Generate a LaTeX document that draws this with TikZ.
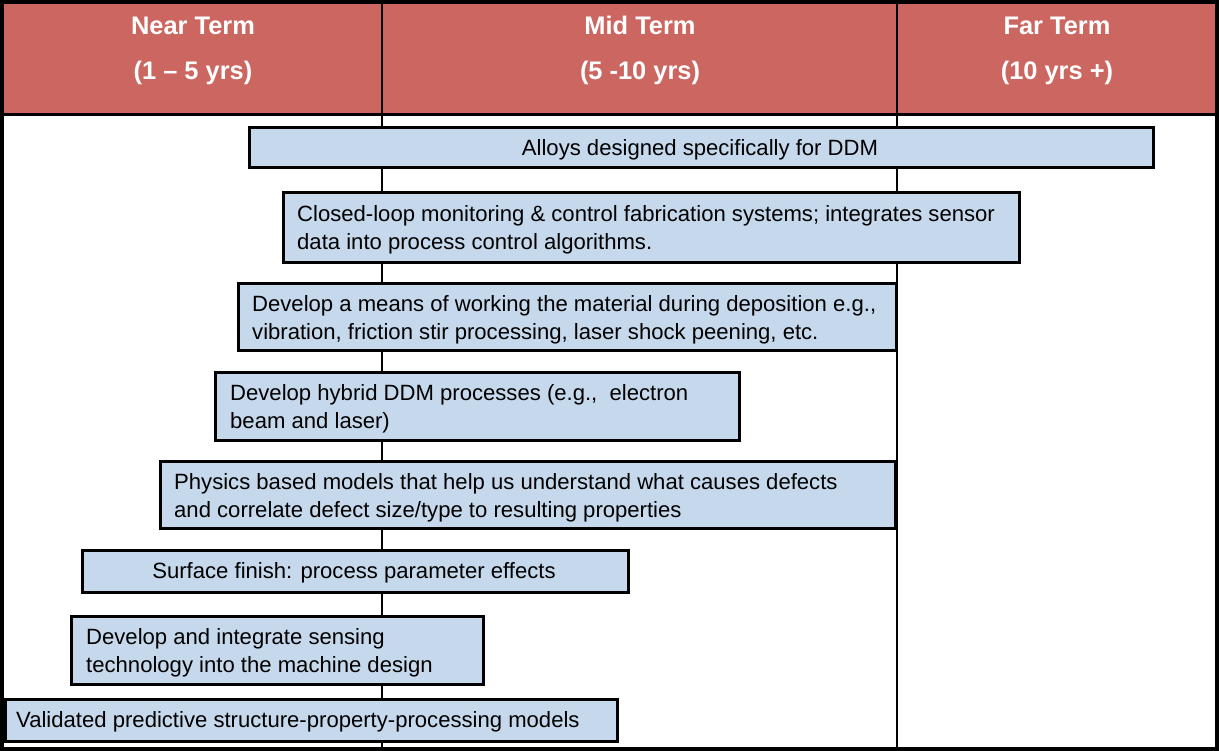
\documentclass[tikz,border=0pt]{standalone}
\usepackage{fontspec}
\setmainfont{Liberation Sans}
\definecolor{headred}{RGB}{204,102,96}
\definecolor{barblue}{RGB}{198,216,236}
\begin{document}
\begin{tikzpicture}[x=1pt,y=-1pt,
  bar/.style={draw=black, line width=2.6pt, fill=barblue, anchor=north west,
    inner sep=0pt, font=\fontsize{22.1}{28}\selectfont},
  bartext/.style={anchor=west, align=left, inner sep=0pt, font=\fontsize{22.1}{28}\selectfont},
  headtext/.style={text=white, font=\fontsize{25.4}{45}\selectfont\bfseries, align=center, inner sep=0pt}]
\useasboundingbox (0,0) rectangle (1219,751);
% header band
\fill[headred] (2,2) rectangle (1217,115);
\fill[white] (2,115) rectangle (1217,749);
% column dividers
\draw[line width=2.5pt] (382,2) -- (382,749);
\draw[line width=2.5pt] (897,2) -- (897,749);
\draw[line width=3pt] (2,115) -- (1217,115);
% column titles
\node[headtext] (near) at (193,50.5) {Near Term\\(1 -- 5 yrs)};
\node[headtext] (mid) at (640,50.5) {Mid Term\\(5 -10 yrs)};
\node[headtext] (far) at (1057,50.5) {Far Term\\(10 yrs +)};
% timeline bars
\node[bar, minimum width=904, minimum height=40] (alloys) at (248,126) {};
\node[bar, anchor=center, draw=none, fill=none] (alloystxt) at (700,150) {Alloys designed specifically for DDM};
\node[bar, minimum width=736, minimum height=70] (closed) at (282,191) {};
\node[bartext] (closedtxt) at (297,230) {Closed-loop monitoring \& control fabrication systems; integrates sensor\\data into process control algorithms.};
\node[bar, minimum width=658, minimum height=67] (working) at (237,282) {};
\node[bartext] (workingtxt) at (252,320) {Develop a means of working the material during deposition e.g.,\\vibration, friction stir processing, laser shock peening, etc.};
\node[bar, minimum width=524, minimum height=68] (hybrid) at (214,371) {};
\node[bartext] (hybridtxt) at (230,409) {Develop hybrid DDM processes (e.g.,~ electron\\beam and laser)};
\node[bar, minimum width=735, minimum height=67] (physics) at (159,460) {};
\node[bartext] (physicstxt) at (174,498) {Physics based models that help us understand what causes defects\\and correlate defect size/type to resulting properties};
\node[bar, minimum width=546, minimum height=42] (surface) at (81,549) {};
\node[bar, anchor=center, draw=none, fill=none] (surfacetxt) at (354,573) {Surface finish: process parameter effects};
\node[bar, minimum width=412, minimum height=68] (sensing) at (70,615) {};
\node[bartext] (sensingtxt) at (86,653) {Develop and integrate sensing\\technology into the machine design};
\node[bar, minimum width=612, minimum height=42] (validated) at (4,698) {};
\node[bartext] (validatedtxt) at (16,722) {Validated predictive structure-property-processing models};
% outer frame
\draw[line width=4pt] (2,2) rectangle (1217,749);
\end{tikzpicture}
\end{document}
